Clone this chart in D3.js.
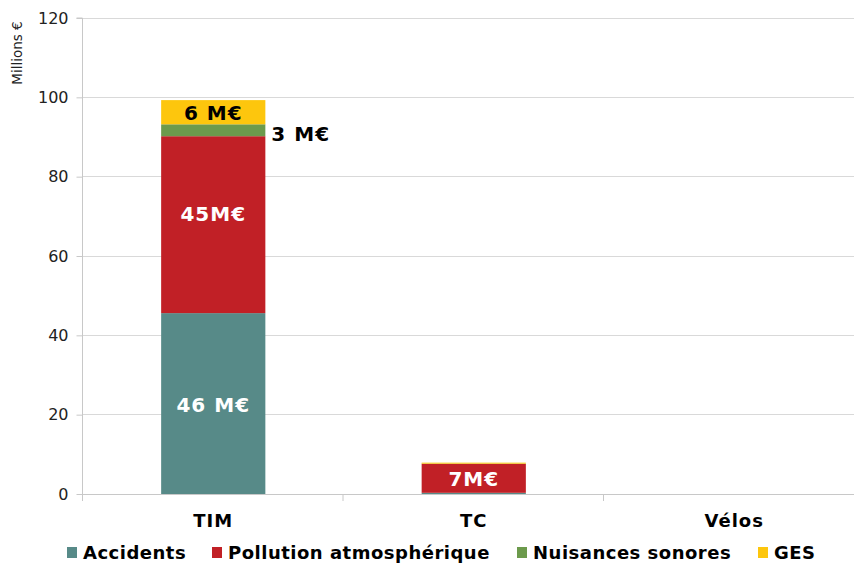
<!DOCTYPE html>
<html>
<head>
<meta charset="utf-8">
<script src="https://cdn.jsdelivr.net/npm/d3@7"></script>
<style>
  html, body { margin: 0; padding: 0; background: #fff; }
  svg { display: block; font-family: "DejaVu Sans", Verdana, sans-serif; }
</style>
</head>
<body>
<svg id="chart" width="854" height="565"></svg>
<script>
// Annual external costs by mode of transport (millions of euros)
const categories = ["TIM", "TC", "Vélos"];
const seriesNames = ["Accidents", "Pollution atmosphérique", "Nuisances sonores", "GES"];
const accidents = [45.6, 0.3, 0];
const pollution = [44.6, 7.3, 0];
const nuisances = [3.0, 0.05, 0];
const ges       = [6.1, 0.25, 0];
const yTicks = [0, 20, 40, 60, 80, 100, 120];
const colors = ["#578a88", "#c12026", "#6c9a4c", "#fdc60d"];

// Value labels: [category, series, placement]
const labelCategory = ["TIM", "TIM", "TIM", "TIM", "TC"];
const labelSeries   = ["Accidents", "Pollution atmosphérique", "Nuisances sonores", "GES", "Pollution atmosphérique"];
const labelSpaced   = [true, false, true, true, false];

const svg = d3.select("#chart");
const margin = { top: 18, left: 83, bottom: 494, right: 864.5 };

const table = categories.map((c, i) => ({
  cat: c,
  "Accidents": accidents[i],
  "Pollution atmosphérique": pollution[i],
  "Nuisances sonores": nuisances[i],
  "GES": ges[i]
}));

const stacked = d3.stack().keys(seriesNames)(table);

const x = d3.scaleBand()
  .domain(categories)
  .range([margin.left, margin.right])
  .paddingInner(0.6)
  .paddingOuter(0.3);

const y = d3.scaleLinear().domain([0, 120]).range([margin.bottom, margin.top]);
const color = d3.scaleOrdinal().domain(seriesNames).range(colors);

// Gridlines
svg.append("g")
  .selectAll("line")
  .data(yTicks.filter(t => t > 0))
  .join("line")
  .attr("x1", margin.left).attr("x2", 854)
  .attr("y1", d => y(d)).attr("y2", d => y(d))
  .attr("stroke", "#d9d9d9").attr("stroke-width", 1)
  .attr("shape-rendering", "crispEdges");

// Y axis
const yAxis = d3.axisLeft(y).tickValues(yTicks).tickSize(6).tickPadding(8);
const gy = svg.append("g")
  .attr("transform", `translate(${margin.left - 0.5},0)`)
  .call(yAxis);
gy.select(".domain").attr("stroke", "#c8c8c8").attr("d", `M-6,${margin.top}H0V${margin.bottom + 6}`);
gy.selectAll(".tick line").attr("stroke", "#c8c8c8");
gy.selectAll(".tick text")
  .attr("fill", "#222")
  .style("font-size", "16px")
  .style("font-family", "'DejaVu Sans', Verdana, sans-serif");

svg.append("text")
  .attr("transform", `translate(22,53) rotate(-90)`)
  .attr("text-anchor", "middle")
  .attr("fill", "#222")
  .style("font-size", "13.5px")
  .text("Millions €");

// Bars
svg.append("g")
  .selectAll("g")
  .data(stacked)
  .join("g")
  .attr("fill", d => color(d.key))
  .selectAll("rect")
  .data(d => d)
  .join("rect")
  .attr("x", d => x(d.data.cat))
  .attr("width", x.bandwidth())
  .attr("y", d => y(d[1]))
  .attr("height", d => y(d[0]) - y(d[1]));

// X axis with category separators
const step = x.step();
const xAxisG = svg.append("g");
xAxisG.append("line")
  .attr("x1", margin.left).attr("x2", 854)
  .attr("y1", y(0) + 0.5).attr("y2", y(0) + 0.5)
  .attr("stroke", "#c8c8c8");
xAxisG.selectAll("line.sep")
  .data(d3.range(categories.length + 1))
  .join("line")
  .attr("class", "sep")
  .attr("x1", i => margin.left + i * step - 0.5)
  .attr("x2", i => margin.left + i * step - 0.5)
  .attr("y1", y(0)).attr("y2", y(0) + 7)
  .attr("stroke", "#c8c8c8");
xAxisG.selectAll("text")
  .data(categories)
  .join("text")
  .attr("x", d => x(d) + x.bandwidth() / 2)
  .attr("y", 527)
  .attr("text-anchor", "middle")
  .attr("fill", "#000")
  .style("font-size", "18px")
  .style("letter-spacing", "1px")
  .style("font-weight", "bold")
  .text(d => d);

// Value labels
const fmt = (v, spaced) => Math.round(v) + (spaced ? " M€" : "M€");
labelCategory.forEach((cat, i) => {
  const s = stacked.find(st => st.key === labelSeries[i]);
  const ci = categories.indexOf(cat);
  const seg = s[ci];
  const v = seg[1] - seg[0];
  const cx = x(cat) + x.bandwidth() / 2;
  const cy = (y(seg[0]) + y(seg[1])) / 2;
  const isNoise = labelSeries[i] === "Nuisances sonores";
  const isGes = labelSeries[i] === "GES";
  const isTimPollution = labelSeries[i] === "Pollution atmosphérique" && cat === "TIM";
  svg.append("text")
    .attr("x", isNoise ? x(cat) + x.bandwidth() + 6 : cx)
    .attr("y", isNoise ? cy + 4 : (isTimPollution ? cy - 11 : cy + 1))
    .attr("dy", "0.35em")
    .attr("text-anchor", isNoise ? "start" : "middle")
    .attr("fill", (isNoise || isGes) ? "#000" : "#fff")
    .style("font-size", "20px")
    .style("letter-spacing", "1px")
    .style("font-weight", "bold")
    .text(fmt(v, labelSpaced[i]));
});

// Legend
const legendX = [67, 212, 517, 758];
const legend = svg.append("g");
seriesNames.forEach((name, i) => {
  legend.append("rect")
    .attr("x", legendX[i]).attr("y", 547)
    .attr("width", 10).attr("height", 11)
    .attr("fill", colors[i]);
  legend.append("text")
    .attr("x", legendX[i] + 16).attr("y", 559)
    .attr("fill", "#000")
    .style("font-size", "18px")
    .style("letter-spacing", "0.5px")
    .style("font-weight", "bold")
    .text(name);
});
</script>
</body>
</html>
